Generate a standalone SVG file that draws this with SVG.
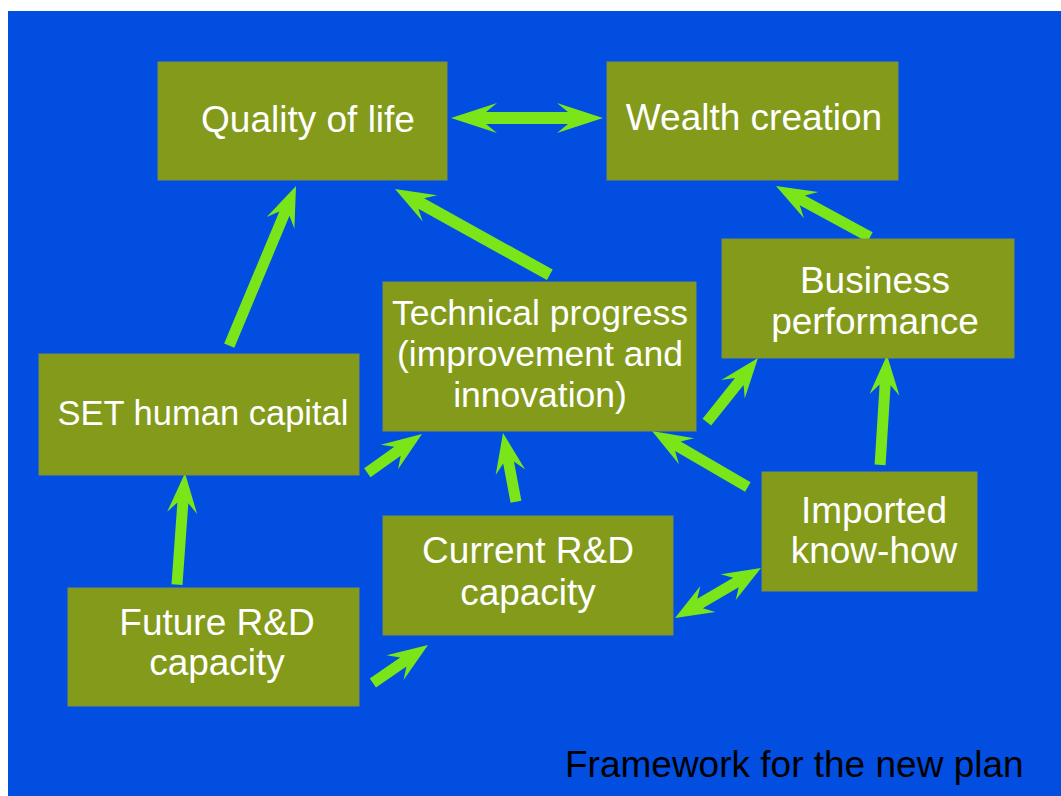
<svg xmlns="http://www.w3.org/2000/svg" width="1061" height="796" viewBox="0 0 1061 796">
<defs>
<style>
.box{fill:#839a1b;stroke:#7d9140;stroke-width:1}
.lbl{font-family:"Liberation Sans",Arial,sans-serif;font-size:37px;fill:#ffffff;text-anchor:middle}
.arr{fill:#7ae619}
.title{font-family:"Liberation Sans",Arial,sans-serif;font-size:37px;fill:#000000}
</style>
</defs>
<rect x="0" y="0" width="1061" height="796" fill="#ffffff"/>
<rect x="8" y="11" width="1053" height="785" fill="#024ee0"/>

<g id="connectors">
<polygon class="arr" transform="translate(603,118)" points="0,0 -46,-15 -35,-6 -117,-6 -106,-15 -152,0 -106,15 -117,6 -35,6 -46,15"/>
<polygon class="arr" transform="translate(296,186) rotate(-67.3)" points="0,0 -40,-15 -30,-5.5 -173,-5.5 -173,5.5 -30,5.5 -40,15"/>
<polygon class="arr" transform="translate(395,189) rotate(-151)" points="0,0 -40,-15 -30,-6 -177,-6 -177,6 -30,6 -40,15"/>
<polygon class="arr" transform="translate(776,186) rotate(-151.5)" points="0,0 -40,-15 -30,-5.5 -107,-5.5 -107,5.5 -30,5.5 -40,15"/>
<polygon class="arr" transform="translate(422,434) rotate(-35.3)" points="0,0 -40,-15 -30,-5.5 -67,-5.5 -67,5.5 -30,5.5 -40,15"/>
<polygon class="arr" transform="translate(503,433) rotate(-100.7)" points="0,0 -40,-15 -30,-5.5 -70,-5.5 -70,5.5 -30,5.5 -40,15"/>
<polygon class="arr" transform="translate(652,431) rotate(-149.7)" points="0,0 -40,-15 -30,-5.5 -111,-5.5 -111,5.5 -30,5.5 -40,15"/>
<polygon class="arr" transform="translate(761,568) rotate(-30.2)" points="0,0 -38,-15 -29,-5.5 -70.5,-5.5 -61.5,-15 -99.5,0 -61.5,15 -70.5,5.5 -29,5.5 -38,15"/>
<polygon class="arr" transform="translate(428,645) rotate(-34.6)" points="0,0 -40,-15 -30,-5.5 -67,-5.5 -67,5.5 -30,5.5 -40,15"/>
<polygon class="arr" transform="translate(758,358) rotate(-51.4)" points="0,0 -40,-15 -30,-5.5 -82,-5.5 -82,5.5 -30,5.5 -40,15"/>
<polygon class="arr" transform="translate(887,355) rotate(-86.4)" points="0,0 -40,-15 -30,-5.5 -110,-5.5 -110,5.5 -30,5.5 -40,15"/>
<polygon class="arr" transform="translate(185,473) rotate(-85.9)" points="0,0 -40,-15 -30,-5.5 -112,-5.5 -112,5.5 -30,5.5 -40,15"/>
</g>

<g id="quality">
<rect class="box" x="158" y="62" width="289" height="118"/>
<text class="lbl" x="308" y="132">Quality of life</text>
</g>
<g id="wealth">
<rect class="box" x="607" y="62" width="291" height="118"/>
<text class="lbl" x="754" y="130">Wealth creation</text>
</g>
<g id="business">
<rect class="box" x="722" y="239" width="292" height="119"/>
<text class="lbl" x="875" y="293">Business</text>
<text class="lbl" x="875" y="334">performance</text>
</g>
<g id="technical">
<rect class="box" x="383" y="282" width="313" height="149"/>
<text class="lbl" x="540" y="325" style="font-size:35.5px">Technical progress</text>
<text class="lbl" x="540" y="366" style="font-size:35.5px">(improvement and</text>
<text class="lbl" x="540" y="407" style="font-size:35.5px">innovation)</text>
</g>
<g id="set">
<rect class="box" x="39" y="354" width="320" height="121"/>
<text class="lbl" x="203" y="425" style="font-size:34.5px">SET human capital</text>
</g>
<g id="current">
<rect class="box" x="383" y="516" width="290" height="119"/>
<text class="lbl" x="528" y="563">Current R&amp;D</text>
<text class="lbl" x="528" y="605">capacity</text>
</g>
<g id="imported">
<rect class="box" x="762" y="472" width="215" height="119"/>
<text class="lbl" x="874" y="523">Imported</text>
<text class="lbl" x="874" y="563">know-how</text>
</g>
<g id="future">
<rect class="box" x="68" y="588" width="291" height="118"/>
<text class="lbl" x="217" y="635">Future R&amp;D</text>
<text class="lbl" x="217" y="675">capacity</text>
</g>
<text class="title" x="565" y="777">Framework for the new plan</text>
</svg>
